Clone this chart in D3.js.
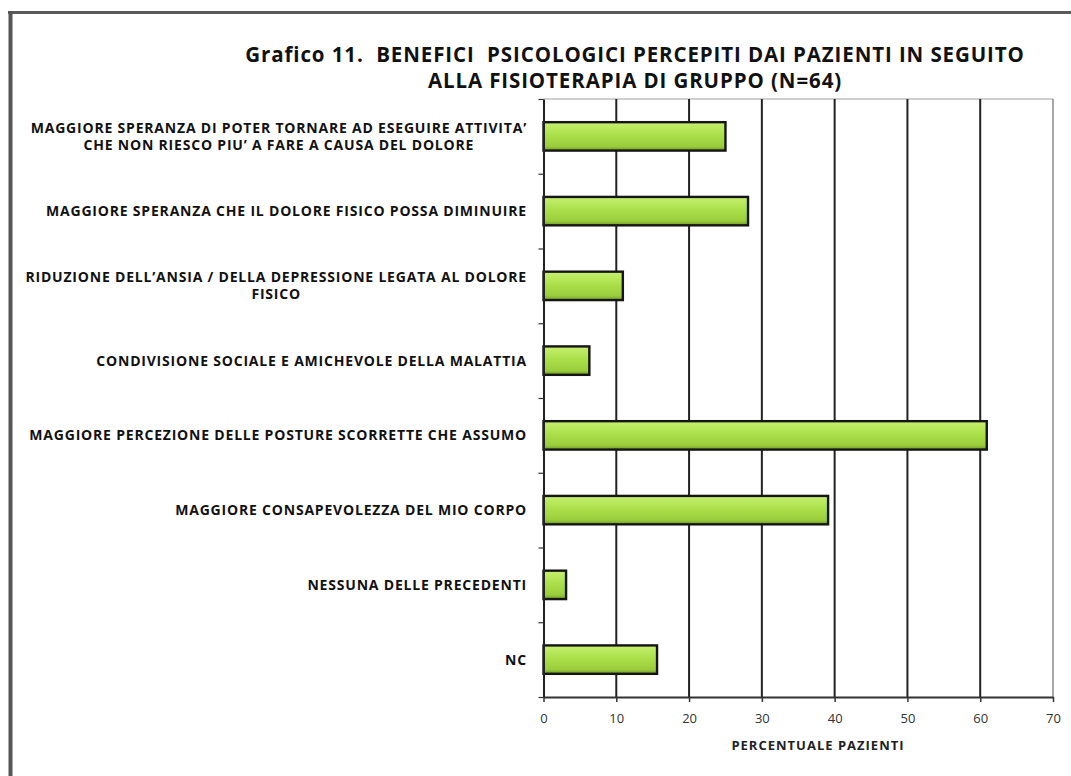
<!DOCTYPE html>
<html>
<head>
<meta charset="utf-8">
<script src="https://cdn.jsdelivr.net/npm/d3@7"></script>
<style>
  body { margin: 0; background: #fff; }
  svg { display: block; }
</style>
</head>
<body>
<div id="chart"></div>
<script>
// chart data
var titleLines = ["Grafico 11.  BENEFICI  PSICOLOGICI PERCEPITI DAI PAZIENTI IN SEGUITO",
                  "ALLA FISIOTERAPIA DI GRUPPO (N=64)"];
var categories = [
  "MAGGIORE SPERANZA DI POTER TORNARE AD ESEGUIRE ATTIVITA’\nCHE NON RIESCO PIU’ A FARE A CAUSA DEL DOLORE",
  "MAGGIORE SPERANZA CHE IL DOLORE FISICO POSSA DIMINUIRE",
  "RIDUZIONE DELL’ANSIA / DELLA DEPRESSIONE LEGATA AL DOLORE\nFISICO",
  "CONDIVISIONE SOCIALE E AMICHEVOLE DELLA MALATTIA",
  "MAGGIORE PERCEZIONE DELLE POSTURE SCORRETTE CHE ASSUMO",
  "MAGGIORE CONSAPEVOLEZZA DEL MIO CORPO",
  "NESSUNA DELLE PRECEDENTI",
  "NC"
];
var values = [25, 28.1, 10.9, 6.3, 60.9, 39.1, 3.1, 15.6];
var xTicks = [0, 10, 20, 30, 40, 50, 60, 70];
var xTitle = "PERCENTUALE PAZIENTI";

// dimensions
var W = 1071, H = 776;
var plotLeft = 543.5, plotRight = 1053, plotTop = 99, plotBottom = 697;

var svg = d3.select("#chart").append("svg")
    .attr("width", W)
    .attr("height", H);

// green bar gradient
var defs = svg.append("defs");
var grad = defs.append("linearGradient")
    .attr("id", "barGrad")
    .attr("x1", 0).attr("y1", 0).attr("x2", 0).attr("y2", 1);
grad.append("stop").attr("offset", "0%").attr("stop-color", "#c6f070");
grad.append("stop").attr("offset", "45%").attr("stop-color", "#abe04a");
grad.append("stop").attr("offset", "85%").attr("stop-color", "#9acd3c");
grad.append("stop").attr("offset", "100%").attr("stop-color", "#6f9a25");

// page frame (top + left edges of scanned box)
svg.append("line")
    .attr("x1", 8).attr("x2", W).attr("y1", 12.5).attr("y2", 12.5)
    .attr("stroke", "#5a5a5a").attr("stroke-width", 3);
svg.append("line")
    .attr("x1", 10.5).attr("x2", 10.5).attr("y1", 11).attr("y2", H)
    .attr("stroke", "#555").attr("stroke-width", 4);

// title
svg.append("g").selectAll("text")
    .data(titleLines)
    .enter()
    .append("text")
      .attr("x", 635)
      .attr("y", function(d, i) { return 62 + i * 26; })
      .attr("text-anchor", "middle")
      .style("white-space", "pre")
      .style("font-family", "'Open Sans', sans-serif")
      .style("font-weight", "bold")
      .style("font-size", "20.5px")
      .style("letter-spacing", "0.9px")
      .style("fill", "#111")
      .text(function(d) { return d; });

// scales
var x = d3.scaleLinear()
    .domain([0, 70])
    .range([plotLeft, plotRight]);

var y = d3.scaleBand()
    .domain(d3.range(categories.length))
    .range([plotTop, plotBottom])
    .paddingInner(0.62)
    .paddingOuter(0.31);

var yEdge = d3.scaleLinear()
    .domain([0, categories.length])
    .range([plotTop, plotBottom]);

// top border of plot area
svg.append("line")
    .attr("x1", plotLeft).attr("x2", plotRight).attr("y1", plotTop).attr("y2", plotTop)
    .attr("stroke", "#a0a0a0").attr("stroke-width", 1);

// vertical gridlines
svg.append("g")
    .selectAll("line")
    .data(xTicks.filter(function(d) { return d > 0; }))
    .enter()
    .append("line")
      .attr("x1", function(d) { return x(d); })
      .attr("x2", function(d) { return x(d); })
      .attr("y1", plotTop)
      .attr("y2", plotBottom)
      .attr("stroke", function(d) { return d === 70 ? "#8a8a8a" : "#222"; })
      .attr("stroke-width", function(d) { return d === 70 ? 1.5 : 2; });

// bars
svg.append("g")
    .selectAll("rect")
    .data(values)
    .enter()
    .append("rect")
      .attr("x", x(0))
      .attr("y", function(d, i) { return y(i); })
      .attr("width", function(d) { return x(d) - x(0); })
      .attr("height", y.bandwidth())
      .attr("fill", "url(#barGrad)")
      .attr("stroke", "#151515")
      .attr("stroke-width", 2.4);

// x axis
var xAxis = svg.append("g")
    .attr("transform", "translate(0," + plotBottom + ")")
    .call(d3.axisBottom(x).tickValues(xTicks).tickSize(5).tickPadding(12).tickSizeOuter(0));
xAxis.select(".domain").attr("stroke", "#333").attr("stroke-width", 2);
xAxis.selectAll(".tick line").attr("stroke", "#333").attr("stroke-width", 1.5);
xAxis.selectAll(".tick text")
    .style("font-family", "'Open Sans', sans-serif")
    .style("font-size", "13px")
    .style("fill", "#333");

// x axis title
svg.append("text")
    .attr("x", 818)
    .attr("y", 750)
    .attr("text-anchor", "middle")
    .style("font-family", "'Open Sans', sans-serif")
    .style("font-weight", "bold")
    .style("font-size", "13px")
    .style("letter-spacing", "1px")
    .style("fill", "#222")
    .text(xTitle);

// y axis: ticks at band edges
var yAxis = svg.append("g")
    .attr("transform", "translate(" + plotLeft + ",0)")
    .call(d3.axisLeft(yEdge).tickValues(d3.range(categories.length + 1)).tickSize(5).tickFormat("").tickSizeOuter(0));
yAxis.select(".domain").attr("stroke", "#222").attr("stroke-width", 2);
yAxis.selectAll(".tick line").attr("stroke", "#333").attr("stroke-width", 1.2);

// category labels: block right aligned, lines centered on the longest one
var labelRight = 527;
var lineGap = 17;
var labels = svg.append("g")
    .selectAll("g")
    .data(categories)
    .enter()
    .append("g");

labels.each(function(d, i) {
  var g = d3.select(this);
  var lines = d.split("\n");
  var cy = y(i) + y.bandwidth() / 2;
  var texts = g.selectAll("text")
    .data(lines)
    .enter()
    .append("text")
      .attr("y", function(l, j) { return cy + (j - (lines.length - 1) / 2) * lineGap; })
      .attr("dy", "0.35em")
      .attr("text-anchor", "middle")
      .style("font-family", "'Open Sans', sans-serif")
      .style("font-weight", "bold")
      .style("font-size", "14px")
      .style("letter-spacing", "0.8px")
      .style("fill", "#111")
      .text(function(l) { return l; });
  var maxW = 0;
  texts.each(function() { maxW = Math.max(maxW, this.getComputedTextLength()); });
  texts.attr("x", labelRight - maxW / 2);
});
</script>
</body>
</html>
